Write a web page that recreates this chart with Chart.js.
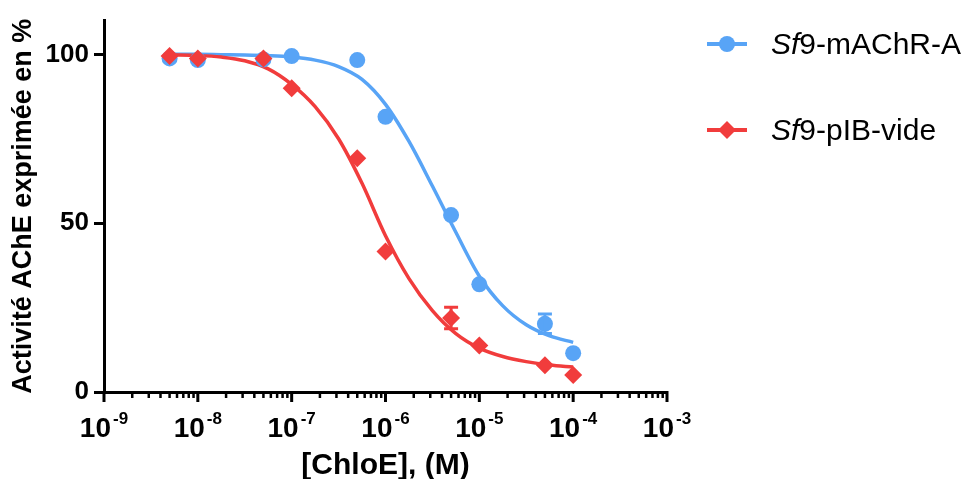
<!DOCTYPE html>
<html><head><meta charset="utf-8">
<script src="https://cdn.jsdelivr.net/npm/chart.js@4.4.1/dist/chart.umd.min.js"></script>
<style>html,body{margin:0;padding:0;background:#fff;}#wrap{width:967px;height:479px;}</style>
</head><body><div id="wrap"><canvas id="c" width="967" height="479"></canvas></div>
<script>
// ---- data ----
const concentrations = [5e-9, 1e-8, 5e-8, 1e-7, 5e-7, 1e-6, 5e-6, 1e-5, 5e-5, 1e-4];
const mAChRValues = [98.8, 98.3, 98.5, 99.5, 98.3, 81.5, 52.4, 31.9, 20.2, 11.5];
const mAChRErrors = [0, 0, 0, 0, 0, 0, 0, 0, 2.9, 0];
const pIBValues = [99.5, 98.8, 98.8, 90.0, 69.2, 41.6, 21.9, 13.8, 7.9, 5.0];
const pIBErrors = [0, 0, 0, 0, 0, 0, 3.2, 0, 0, 0];

// fitted curves
const fitConcentrations = [5e-9, 1e-8, 1.78e-8, 3.16e-8, 5.62e-8, 1e-7, 1.78e-7, 3.16e-7, 5.62e-7,
  1e-6, 1.78e-6, 3.16e-6, 5.62e-6, 1e-5, 1.78e-5, 3.16e-5, 5.62e-5, 1e-4];
const mAChRFit = [100, 100, 99.9, 99.8, 99.6, 99.2, 98.3, 96.4, 92.6, 85.2, 74.2, 61.0, 47.3, 34.3, 25.5, 19.9, 16.6, 14.7];
const pIBFit = [99.9, 99.7, 99.2, 98.1, 95.7, 91.1, 84.5, 75.0, 61.8, 46.3, 33.6, 24.1, 17.3, 13.0, 10.5, 9.0, 8.0, 7.4];

const seriesLabels = ['Sf9-mAChR-A', 'Sf9-pIB-vide'];
const italicPrefix = 'Sf';
const xTickExponents = [-9, -8, -7, -6, -5, -4, -3];
const yTicks = [0, 50, 100];
const xTitle = '[ChloE], (M)';
const yTitle = 'Activité AChE exprimée en %';

const BLUE = 'rgb(88,164,246)';
const RED = 'rgb(241,60,60)';
const FONT = '"Liberation Sans", Arial, Helvetica, sans-serif';

const toXY = (xs, ys) => xs.map((x, i) => ({x, y: ys[i]}));

const errorBarPlugin = {
  id: 'errorBars',
  afterDatasetsDraw(chart) {
    const {ctx, scales: {x, y}} = chart;
    chart.data.datasets.forEach((ds) => {
      if (!ds.errorBars) return;
      ctx.save();
      ctx.strokeStyle = ds.borderColor;
      ctx.lineWidth = 3;
      ds.data.forEach((pt, j) => {
        const e = ds.errorBars[j];
        if (!e) return;
        const px = x.getPixelForValue(pt.x);
        const t = y.getPixelForValue(pt.y + e), b = y.getPixelForValue(pt.y - e);
        ctx.beginPath();
        ctx.moveTo(px, t); ctx.lineTo(px, b);
        ctx.moveTo(px - 7, t); ctx.lineTo(px + 7, t);
        ctx.moveTo(px - 7, b); ctx.lineTo(px + 7, b);
        ctx.stroke();
      });
      ctx.restore();
    });
  }
};

const logAxisPlugin = {
  id: 'logAxis',
  afterDraw(chart) {
    const {ctx} = chart;
    const xs = chart.scales.x;
    const y0 = chart.chartArea.bottom;
    ctx.save();
    ctx.strokeStyle = '#000';
    for (let k = 0; k < xTickExponents.length; k++) {
      const e = xTickExponents[k];
      const mults = k < xTickExponents.length - 1 ? [1, 2, 3, 4, 5, 6, 7, 8, 9] : [1];
      for (const m of mults) {
        const px = xs.getPixelForValue(m * Math.pow(10, e));
        ctx.lineWidth = m === 1 ? 3 : 2.5;
        ctx.beginPath();
        ctx.moveTo(px, y0 - 1);
        ctx.lineTo(px, y0 + (m === 1 ? 10 : 6));
        ctx.stroke();
      }
      const px = xs.getPixelForValue(Math.pow(10, e));
      const base = '10', sup = String(e);
      ctx.fillStyle = '#000';
      ctx.textBaseline = 'alphabetic';
      ctx.font = 'bold 28px ' + FONT;
      const wb = ctx.measureText(base).width;
      ctx.font = 'bold 17px ' + FONT;
      const ws = ctx.measureText(sup).width;
      const start = px - (wb + ws + 2) / 2;
      ctx.textAlign = 'left';
      ctx.font = 'bold 28px ' + FONT;
      ctx.fillText(base, start, y0 + 45);
      ctx.font = 'bold 17px ' + FONT;
      ctx.fillText(sup, start + wb + 2, y0 + 32);
    }
    ctx.restore();

    // legend
    ctx.save();
    const rows = [{y: 44, color: BLUE, style: 'circle'}, {y: 130, color: RED, style: 'diamond'}];
    rows.forEach((r, i) => {
      ctx.strokeStyle = r.color; ctx.fillStyle = r.color; ctx.lineWidth = 4;
      ctx.beginPath(); ctx.moveTo(707, r.y); ctx.lineTo(747, r.y); ctx.stroke();
      ctx.beginPath();
      if (r.style === 'circle') ctx.arc(727, r.y, 8, 0, Math.PI * 2);
      else { ctx.moveTo(727 - 9, r.y); ctx.lineTo(727, r.y - 9); ctx.lineTo(727 + 9, r.y); ctx.lineTo(727, r.y + 9); ctx.closePath(); }
      ctx.fill();
      const label = seriesLabels[i];
      const rest = label.slice(italicPrefix.length);
      ctx.fillStyle = '#000';
      ctx.textBaseline = 'alphabetic'; ctx.textAlign = 'left';
      ctx.font = 'italic 30px ' + FONT;
      ctx.fillText(italicPrefix, 771, r.y + 10);
      const wi = ctx.measureText(italicPrefix).width;
      ctx.font = '30px ' + FONT;
      ctx.fillText(rest, 771 + wi, r.y + 10);
    });
    ctx.restore();
  }
};

new Chart(document.getElementById('c'), {
  type: 'line',
  data: {
    datasets: [
      {label: seriesLabels[0], data: toXY(concentrations, mAChRValues), errorBars: mAChRErrors,
       showLine: false, pointStyle: 'circle', pointRadius: 8, pointBackgroundColor: BLUE, pointBorderWidth: 0,
       borderColor: BLUE, backgroundColor: BLUE, order: 1},
      {label: seriesLabels[1], data: toXY(concentrations, pIBValues), errorBars: pIBErrors,
       showLine: false, pointStyle: 'rectRot', pointRadius: 9, pointBackgroundColor: RED, pointBorderWidth: 0,
       borderColor: RED, backgroundColor: RED, order: 0},
      {label: seriesLabels[0] + ' fit', data: toXY(fitConcentrations, mAChRFit), borderColor: BLUE,
       borderWidth: 3.5, pointRadius: 0, cubicInterpolationMode: 'monotone', fill: false, order: 3},
      {label: seriesLabels[1] + ' fit', data: toXY(fitConcentrations, pIBFit), borderColor: RED,
       borderWidth: 3.5, pointRadius: 0, cubicInterpolationMode: 'monotone', fill: false, order: 2}
    ]
  },
  options: {
    responsive: false,
    animation: false,
    devicePixelRatio: 1,
    layout: {padding: {top: 18, right: 300, left: 0, bottom: 0}},
    plugins: {legend: {display: false}, tooltip: {enabled: false}},
    scales: {
      x: {
        type: 'logarithmic', min: 1e-9, max: 1e-3,
        border: {display: true, color: '#000', width: 3},
        grid: {display: true, drawOnChartArea: false, drawTicks: false, color: 'rgba(0,0,0,0)'},
        ticks: {display: false},
        title: {display: true, text: xTitle, color: '#000',
                font: {family: FONT, size: 30, weight: 'bold', lineHeight: 0.8}, padding: {top: 0, bottom: 1}},
        afterFit: (s) => { s.height = 87; }
      },
      y: {
        min: 0, max: 110,
        afterBuildTicks: (s) => { s.ticks = yTicks.map(v => ({value: v})); },
        border: {display: true, color: '#000', width: 3},
        grid: {display: true, drawOnChartArea: false, drawTicks: true, tickLength: 10, tickWidth: 3, tickColor: '#000'},
        ticks: {color: '#000', padding: 5, font: {family: FONT, size: 26, weight: 'bold'}},
        title: {display: true, text: yTitle, color: '#000',
                font: {family: FONT, size: 27, weight: 'bold'}, padding: {top: 7, bottom: 0}},
        afterFit: (s) => { s.width = 104; }
      }
    }
  },
  plugins: [errorBarPlugin, logAxisPlugin]
});
</script></body></html>
